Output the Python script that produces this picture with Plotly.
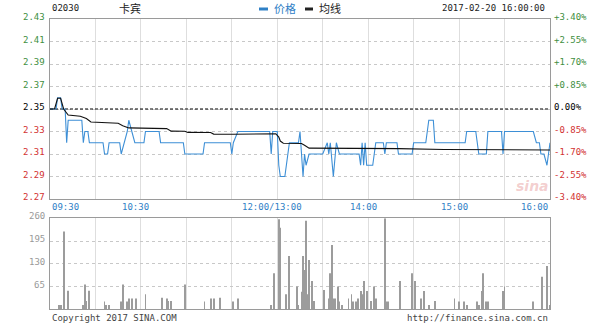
import plotly.graph_objects as go

# ---------------- data ----------------
prev_close = 2.35

# minute index from 09:30 on the compressed trading axis (0..330)
price_t = [0, 4, 5, 7, 8, 10, 11, 12, 21, 22, 23, 25, 26, 35, 36, 38, 39, 46, 47, 49,
           51, 52, 54, 56, 62, 63, 72, 73, 88, 89, 101, 102, 119, 120, 121, 124, 145, 146,
           147, 150, 151, 152, 155, 156, 157, 158, 164, 165, 167, 168, 169, 171, 180, 183,
           184, 185, 187, 189, 191, 204, 205, 206, 207, 208, 209, 213, 215, 220, 221, 222,
           229, 230, 239, 240, 248, 250, 253, 254, 274, 275, 281, 283, 288, 289, 298, 299,
           300, 319, 321, 323, 324, 326, 328, 330]
price_v = [2.35, 2.35, 2.36, 2.36, 2.35, 2.35, 2.32, 2.34, 2.34, 2.32, 2.33, 2.33, 2.32, 2.32,
           2.31, 2.31, 2.32, 2.32, 2.31, 2.32, 2.33, 2.34, 2.33, 2.32, 2.32, 2.33, 2.33, 2.32,
           2.32, 2.31, 2.31, 2.32, 2.32, 2.31, 2.32, 2.33, 2.33, 2.31, 2.33, 2.33, 2.30, 2.29,
           2.29, 2.30, 2.31, 2.32, 2.32, 2.33, 2.29, 2.31, 2.30, 2.31, 2.31, 2.32, 2.31, 2.32,
           2.29, 2.32, 2.31, 2.31, 2.30, 2.32, 2.30, 2.32, 2.30, 2.30, 2.32, 2.32, 2.31, 2.32,
           2.32, 2.31, 2.31, 2.32, 2.32, 2.34, 2.34, 2.32, 2.32, 2.33, 2.33, 2.31, 2.31, 2.33,
           2.33, 2.31, 2.33, 2.33, 2.32, 2.32, 2.31, 2.31, 2.30, 2.32]

avg_t = [0, 3, 5, 7, 9, 12, 20, 24, 27, 45, 48, 52, 77, 80, 89, 91, 106, 108, 121, 147,
         149, 151, 152, 154, 166, 168, 171, 230, 260, 330]
avg_v = [2.35, 2.35, 2.3595, 2.3595, 2.35, 2.3447, 2.3435, 2.3415, 2.3385, 2.3373, 2.3352,
         2.3332, 2.3326, 2.3303, 2.3302, 2.3292, 2.3291, 2.3277, 2.3275, 2.3282, 2.3280,
         2.3250, 2.3215, 2.3196, 2.3194, 2.3178, 2.3152, 2.3148, 2.3140, 2.3136]

vol_t = [6, 7, 9, 12, 22, 23, 24, 26, 36, 37, 39, 47, 48, 51, 52, 54, 57, 63, 74, 77, 78, 80,
         89, 102, 106, 108, 112, 121, 124, 146, 148, 151, 152, 156, 158, 163, 164, 166, 167,
         168, 169, 170, 171, 173, 174, 181, 184, 185, 186, 187, 188, 190, 191, 193, 197, 199,
         200, 202, 203, 205, 206, 207, 209, 212, 214, 215, 221, 222, 223, 231, 239, 241, 245,
         247, 250, 254, 267, 270, 273, 275, 282, 283, 285, 286, 288, 289, 299, 300, 319, 325,
         328, 330]
vol_v = [12, 12, 222, 53, 12, 71, 24, 53, 22, 12, 12, 22, 71, 22, 31, 31, 31, 43, 33, 31, 24,
         24, 71, 22, 31, 31, 33, 22, 31, 12, 103, 257, 233, 43, 152, 65, 12, 50, 152, 112, 253,
         43, 141, 81, 24, 55, 31, 103, 184, 31, 31, 65, 22, 12, 31, 43, 22, 22, 31, 52, 43, 81,
         52, 24, 65, 31, 260, 22, 22, 81, 103, 81, 31, 52, 12, 24, 31, 22, 22, 12, 22, 12, 52,
         103, 22, 22, 52, 65, 22, 93, 124, 12]

price_ticks = [2.43, 2.41, 2.39, 2.37, 2.35, 2.33, 2.31, 2.29, 2.27]
pct_labels = ["+3.40%", "+2.55%", "+1.70%", "+0.85%", "0.00%",
              "-0.85%", "-1.70%", "-2.55%", "-3.40%"]
vol_ticks = [260, 195, 130, 65]
time_vals = [0, 60, 150, 210, 270, 330]
time_text = ["09:30", "10:30", "12:00/13:00", "14:00", "15:00", "16:00"]

# ---------------- styling ----------------
W, H = 600, 327
L, R = 50, 550
P_TOP, P_BOT = 19, 199
V_TOP, V_BOT = 218.3, 309.3

def py(px):
    return 1 - px / H

GREEN = "#3f8f3f"
RED = "#d23232"
BLUE_T = "#2f80c6"
LINE_BLUE = "#3d8fd6"
MONO = "DejaVu Sans Mono"
CJK = "Noto Sans CJK SC"
BORDER = "#9a9a9a"
VGRID = "#dedede"
HGRID = "#c8c8c8"

fig = go.Figure()

fig.add_trace(go.Scatter(x=[0, 330], y=[prev_close, prev_close], mode="lines",
                         line=dict(color="#000000", width=1, dash="3px,2px"),
                         hoverinfo="skip", xaxis="x", yaxis="y"))
fig.add_trace(go.Scatter(x=price_t, y=price_v, mode="lines",
                         line=dict(color=LINE_BLUE, width=1.1), xaxis="x", yaxis="y"))
fig.add_trace(go.Scatter(x=avg_t, y=avg_v, mode="lines",
                         line=dict(color="#111111", width=1.1), xaxis="x", yaxis="y"))
fig.add_trace(go.Bar(x=vol_t, y=vol_v, width=0.6,
                     marker=dict(color="#9c9c9c", line=dict(width=0)),
                     xaxis="x2", yaxis="y2"))

xcommon = dict(domain=[L / W, R / W], range=[0, 330], tick0=0, dtick=30,
               showgrid=True, gridcolor=VGRID, gridwidth=1, showticklabels=False,
               ticks="", showline=True, linecolor=BORDER, linewidth=1, mirror=True,
               zeroline=False, fixedrange=True)

fig.update_layout(
    width=W, height=H, margin=dict(l=0, r=0, t=0, b=0),
    paper_bgcolor="white", plot_bgcolor="white", showlegend=False,
    xaxis=dict(anchor="y", **xcommon),
    xaxis2=dict(anchor="y2", **xcommon),
    yaxis=dict(domain=[py(P_BOT), py(P_TOP)], range=[2.27, 2.43], tickvals=price_ticks,
               showgrid=True, gridcolor=HGRID, griddash="dot", gridwidth=1,
               showticklabels=False, ticks="", showline=True, linecolor=BORDER,
               mirror=True, zeroline=False, anchor="x"),
    yaxis2=dict(domain=[py(V_BOT), py(V_TOP)], range=[0, 260], tickvals=[65, 130, 195],
                showgrid=True, gridcolor=HGRID, griddash="dot", gridwidth=1,
                showticklabels=False, ticks="", showline=True, linecolor=BORDER,
                mirror=True, zeroline=False, anchor="x2"),
)

ann = []
for v, pct in zip(price_ticks, pct_labels):
    if v > prev_close + 1e-9:
        c = GREEN
    elif v < prev_close - 1e-9:
        c = RED
    else:
        c = "#000000"
    ann.append(dict(xref="paper", yref="y", x=47 / W, y=v, text=f"{v:.2f}",
                    xanchor="right", yanchor="middle", yshift=2, showarrow=False,
                    font=dict(family=MONO, size=9, color=c)))
    ann.append(dict(xref="paper", yref="y", x=552 / W, y=v, text=pct,
                    xanchor="left", yanchor="middle", yshift=2, showarrow=False,
                    font=dict(family=MONO, size=9, color=c)))

for v in vol_ticks:
    ann.append(dict(xref="paper", yref="y2", x=47 / W, y=v, text=str(v),
                    xanchor="right", yanchor="middle", yshift=2, showarrow=False,
                    font=dict(family=MONO, size=9, color="#999999")))

for i, (tv, tt) in enumerate(zip(time_vals, time_text)):
    if i == 0:
        xa, xs = "left", 0
    elif i == len(time_vals) - 1:
        xa, xs = "right", 0
    else:
        xa, xs = "center", -5
    ann.append(dict(xref="x", yref="paper", x=tv, y=py(207), text=tt, xanchor=xa,
                    xshift=xs, yanchor="middle", showarrow=False,
                    font=dict(family=MONO, size=9, color=BLUE_T)))

# header
ann.append(dict(xref="paper", yref="paper", x=50 / W, y=py(8), text="02030",
                xanchor="left", yanchor="middle", showarrow=False,
                font=dict(family=MONO, size=9, color="#222222")))
ann.append(dict(xref="paper", yref="paper", x=117 / W, y=py(8), text="卡宾",
                xanchor="left", yanchor="middle", showarrow=False,
                font=dict(family=CJK, size=11, color="#222222")))
ann.append(dict(xref="paper", yref="paper", x=272 / W, y=py(8.5), text="价格",
                xanchor="left", yanchor="middle", showarrow=False,
                font=dict(family=CJK, size=11, color=BLUE_T)))
ann.append(dict(xref="paper", yref="paper", x=317 / W, y=py(8.5), text="均线",
                xanchor="left", yanchor="middle", showarrow=False,
                font=dict(family=CJK, size=11, color="#222222")))
ann.append(dict(xref="paper", yref="paper", x=547 / W, y=py(8), text="2017-02-20 16:00:00",
                xanchor="right", yanchor="middle", showarrow=False,
                font=dict(family=MONO, size=9, color="#222222")))
# footer
ann.append(dict(xref="paper", yref="paper", x=50 / W, y=py(318), text="Copyright 2017 SINA.COM",
                xanchor="left", yanchor="middle", showarrow=False,
                font=dict(family=MONO, size=9, color="#444444")))
ann.append(dict(xref="paper", yref="paper", x=550 / W, y=py(318),
                text="http://finance.sina.com.cn",
                xanchor="right", yanchor="middle", showarrow=False,
                font=dict(family=MONO, size=9, color="#444444")))
# watermark
ann.append(dict(xref="paper", yref="paper", x=532 / W, y=py(186), text="<b><i>sina</i></b>",
                xanchor="center", yanchor="middle", showarrow=False,
                font=dict(family="DejaVu Sans", size=14, color="rgba(215,90,90,0.3)")))

fig.update_layout(annotations=ann)

shapes = [
    dict(type="rect", xref="paper", yref="paper", x0=259 / W, x1=268 / W,
         y0=py(10.5), y1=py(7.5), fillcolor=BLUE_T, line=dict(width=0)),
    dict(type="rect", xref="paper", yref="paper", x0=305 / W, x1=313 / W,
         y0=py(10.5), y1=py(7.5), fillcolor="#222222", line=dict(width=0)),
]
fig.update_layout(shapes=shapes)

fig.write_html("out.html")
